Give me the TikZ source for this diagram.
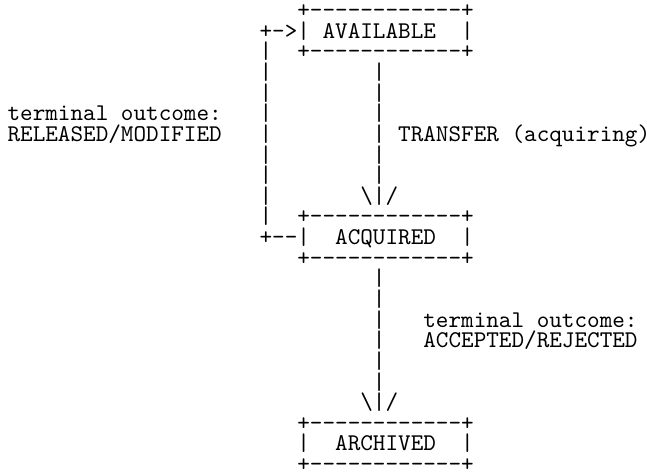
\documentclass[tikz,border=0pt]{standalone}
\usetikzlibrary{positioning}

\begin{document}
\begin{tikzpicture}[font=\ttfamily, x=5.25pt, y=-8.6pt,
  asc/.style={anchor=base west, inner sep=0pt, outer sep=0pt},
  edge/.style={asc},
  bar/.style={asc}]
  \useasboundingbox (-0.6,-0.85) rectangle (50.75,22.065);
  % AVAILABLE
  \node[edge] (availT) at (23,0) {+------------+};
  \node[edge] (availL) at (23,1) {|};
  \node[asc] (avail) at (25,1) {AVAILABLE};
  \node[edge] (availR) at (36,1) {|};
  \node[edge] (availB) at (23,2) {+------------+};
  % ACQUIRED
  \node[edge] (acqT) at (23,10) {+------------+};
  \node[edge] (acqL) at (23,11) {|};
  \node[asc] (acq) at (26,11) {ACQUIRED};
  \node[edge] (acqR) at (36,11) {|};
  \node[edge] (acqB) at (23,12) {+------------+};
  % ARCHIVED
  \node[edge] (archT) at (23,20) {+------------+};
  \node[edge] (archL) at (23,21) {|};
  \node[asc] (arch) at (26,21) {ARCHIVED};
  \node[edge] (archR) at (36,21) {|};
  \node[edge] (archB) at (23,22) {+------------+};
  % loop back to AVAILABLE
  \node[bar] (backIn) at (20,1) {+->};
  \foreach \r in {2,...,10}
    \node[bar] (back\r) at (20,\r) {|};
  \node[bar] (backOut) at (20,11) {+--};
  % AVAILABLE -> ACQUIRED
  \foreach \r in {3,...,8}
    \node[bar] (take\r) at (29,\r) {|};
  \node[bar] (takeTip) at (28,9) {\textbackslash|/};
  % ACQUIRED -> ARCHIVED
  \foreach \r in {13,...,18}
    \node[bar] (done\r) at (29,\r) {|};
  \node[bar] (doneTip) at (28,19) {\textbackslash|/};
  % labels
  \node[asc] (backLbl) at (0,5) {terminal outcome:};
  \node[asc] (backLbl2) at (0,6) {RELEASED/MODIFIED};
  \node[asc] (takeLbl) at (31,6) {TRANSFER (acquiring)};
  \node[asc] (doneLbl) at (33,15) {terminal outcome:};
  \node[asc] (doneLbl2) at (33,16) {ACCEPTED/REJECTED};
\end{tikzpicture}
\end{document}
